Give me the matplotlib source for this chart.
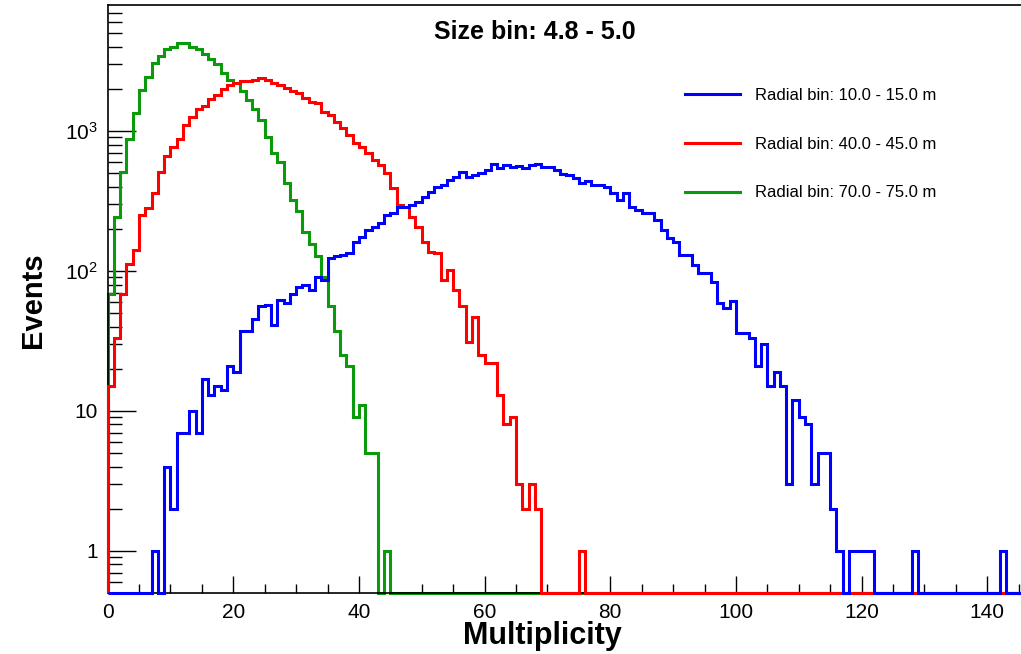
import numpy as np
import matplotlib
matplotlib.use("Agg")
import matplotlib.pyplot as plt
from matplotlib.lines import Line2D
from matplotlib.ticker import FixedLocator, FixedFormatter, MultipleLocator, LogLocator, NullFormatter

plt.rcParams['font.family'] = ['Liberation Sans', 'DejaVu Sans']
plt.rcParams['mathtext.fontset'] = 'custom'
plt.rcParams['mathtext.rm'] = 'Liberation Sans'
plt.rcParams['mathtext.it'] = 'Liberation Sans:italic'
plt.rcParams['mathtext.bf'] = 'Liberation Sans:bold'

# counts per unit-width multiplicity bin, starting at 0
blue_counts = [0, 0, 0, 0, 0, 0, 0, 1, 0, 4,
               2, 7, 7, 10, 7, 17, 13, 15, 14, 21,
               19, 37, 37, 45, 56, 57, 41, 62, 59, 69,
               77, 79, 73, 91, 86, 123, 127, 130, 135, 162,
               176, 196, 207, 219, 251, 258, 288, 288, 296, 313,
               339, 369, 400, 411, 447, 472, 512, 472, 485, 504,
               526, 581, 541, 572, 556, 562, 541, 572, 581, 550,
               556, 526, 493, 485, 459, 423, 442, 411, 411, 396,
               363, 321, 359, 288, 273, 258, 258, 231, 196, 171,
               162, 130, 130, 110, 97, 97, 84, 59, 54, 61,
               36, 36, 33, 21, 30, 15, 19, 15, 3, 12,
               9, 8, 3, 5, 5, 2, 1, 0, 1, 1,
               1, 1, 0, 0, 0, 0, 0, 0, 1, 0,
               0, 0, 0, 0, 0, 0, 0, 0, 0, 0,
               0, 0, 1]

red_counts = [15, 33, 69, 113, 141, 251, 281, 359, 512, 663,
              773, 873, 1104, 1265, 1429, 1510, 1684, 1807, 1986, 2131,
              2213, 2287, 2287, 2312, 2379, 2312, 2200, 2131, 2018, 1941,
              1879, 1713, 1620, 1577, 1374, 1300, 1165, 1045, 936, 816,
              764, 692, 621, 572, 499, 390, 296, 288, 244, 207,
              162, 137, 135, 86, 102, 73, 56, 31, 47, 25,
              22, 22, 13, 8, 9, 3, 2, 3, 2, 0,
              0, 0, 0, 0, 0, 1]

green_counts = [69, 244, 512, 873, 1337, 1963, 2420, 3076, 3433, 3833,
                4000, 4230, 4230, 4000, 3833, 3548, 3250, 3011, 2608, 2312,
                2191, 1941, 1665, 1429, 1199, 900, 700, 600, 424, 319,
                270, 189, 156, 128, 91, 56, 37, 25, 21, 9,
                11, 5, 5, 0, 1]

labels = ["Radial bin: 10.0 - 15.0 m", "Radial bin: 40.0 - 45.0 m", "Radial bin: 70.0 - 75.0 m"]
colors = ["#0000ff", "#ff0000", "#0b9a0b"]

nbins = 150
ymin, ymax = 0.5, 7950
edges = np.arange(0, nbins + 1)

def filled(counts):
    arr = np.zeros(nbins)
    arr[:len(counts)] = counts
    # empty bins sit on the lower frame, like ROOT does on a log axis
    return np.maximum(arr, ymin)

fig = plt.figure(figsize=(10.21, 6.54), dpi=100)
ax = fig.add_axes([107.6 / 1021, 61 / 654, 942.5 / 1021, 588 / 654])

series = [blue_counts, red_counts, green_counts]
zorders = [4, 3, 2]
for counts, c, z in zip(series, colors, zorders):
    ax.stairs(filled(counts), edges, baseline=ymin, color=c, lw=2.2, zorder=z, clip_on=False)

ax.set_yscale('log')
ax.set_xlim(0, nbins)
ax.set_ylim(ymin, ymax)

ax.xaxis.set_major_locator(MultipleLocator(20))
ax.xaxis.set_minor_locator(MultipleLocator(5))
ax.yaxis.set_major_locator(FixedLocator([1, 10, 100, 1000]))
ax.yaxis.set_major_formatter(FixedFormatter(['1', '10', '$10^{2}$', '$10^{3}$']))
ax.yaxis.set_minor_locator(LogLocator(base=10, subs=np.arange(2, 10)))
ax.yaxis.set_minor_formatter(NullFormatter())

ax.tick_params(axis='both', which='both', direction='in', top=False, right=False, width=1, labelsize=15)
ax.tick_params(axis='x', which='major', length=12, pad=7)
ax.tick_params(axis='x', which='minor', length=6.5)
ax.tick_params(axis='y', which='major', length=20, pad=7)
ax.tick_params(axis='y', which='minor', length=10)
for s in ax.spines.values():
    s.set_linewidth(1.2)

fig.text(33 / 1021, 1 - 300 / 654, 'Events', rotation=90, fontsize=21, fontweight='bold', ha='center', va='center')
fig.text(542 / 1021, 1 - 636 / 654, 'Multiplicity', fontsize=22, fontweight='bold', ha='center', va='center')
fig.text(535 / 1021, 1 - 32 / 654, 'Size bin: 4.8 - 5.0', fontsize=18, fontweight='bold', ha='center', va='center')

handles = [Line2D([], [], color=c, lw=2.2) for c in colors]
ax.legend(handles, labels, loc='upper left', bbox_to_anchor=(685 / 1021, 1 - 88 / 654),
          bbox_transform=fig.transFigure, frameon=False, fontsize=12, handlelength=3.3,
          handletextpad=0.9, labelspacing=2.02, borderpad=0, borderaxespad=0)

fig.savefig("out.png", dpi=100)
